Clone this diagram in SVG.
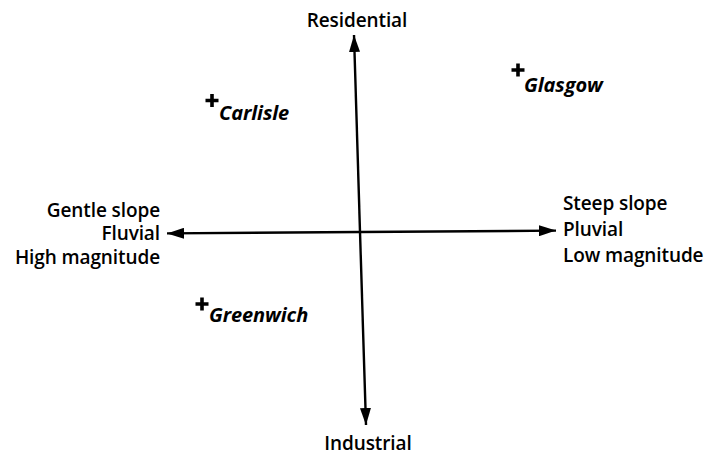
<svg xmlns="http://www.w3.org/2000/svg" width="709" height="456" viewBox="0 0 709 456">
<style>
text{font-family:"Open Sans","Noto Sans","Liberation Sans",sans-serif;font-size:19px;font-weight:600;fill:#000;letter-spacing:-0.1px}
.city{font-style:italic;font-weight:700;font-size:20px}
.ax{stroke:#000;stroke-width:2.4;fill:none}
.pl{stroke:#000;stroke-width:3.6;fill:none}
</style>
<defs>
<marker id="ah" viewBox="0 0 17 11" refX="17" refY="5.5" markerWidth="17" markerHeight="11" markerUnits="userSpaceOnUse" orient="auto"><path d="M0,0 L17,5.5 L0,11 Z" fill="#000"/></marker>
</defs>
<rect width="709" height="456" fill="#fff"/>
<g id="connectors">
<line class="ax" x1="360" y1="232" x2="167" y2="233.4" marker-end="url(#ah)"/>
<line class="ax" x1="360" y1="232" x2="556" y2="230.6" marker-end="url(#ah)"/>
<line class="ax" x1="360" y1="232" x2="354" y2="35" marker-end="url(#ah)"/>
<line class="ax" x1="360" y1="232" x2="366" y2="425" marker-end="url(#ah)"/>
</g>
<g id="residential"><text x="357" y="27" text-anchor="middle">Residential</text></g>
<g id="industrial"><text x="368" y="450" text-anchor="middle">Industrial</text></g>
<g id="left"><text text-anchor="end"><tspan x="160" y="216.5">Gentle slope</tspan><tspan x="160" y="240">Fluvial</tspan><tspan x="160" y="264">High magnitude</tspan></text></g>
<g id="right"><text><tspan x="563" y="210">Steep slope</tspan><tspan x="563" y="236">Pluvial</tspan><tspan x="563" y="261.5">Low magnitude</tspan></text></g>
<g id="carlisle"><path class="pl" d="M205.5,100.5 H218.5 M212,94 V107"/><text class="city" x="219" y="119.5">Carlisle</text></g>
<g id="glasgow"><path class="pl" d="M511.5,70 H524.5 M518,63.5 V76.5"/><text class="city" x="524" y="91.5">Glasgow</text></g>
<g id="greenwich"><path class="pl" d="M195.5,304 H208.5 M202,297.5 V310.5"/><text class="city" x="209" y="321.5">Greenwich</text></g>
</svg>
